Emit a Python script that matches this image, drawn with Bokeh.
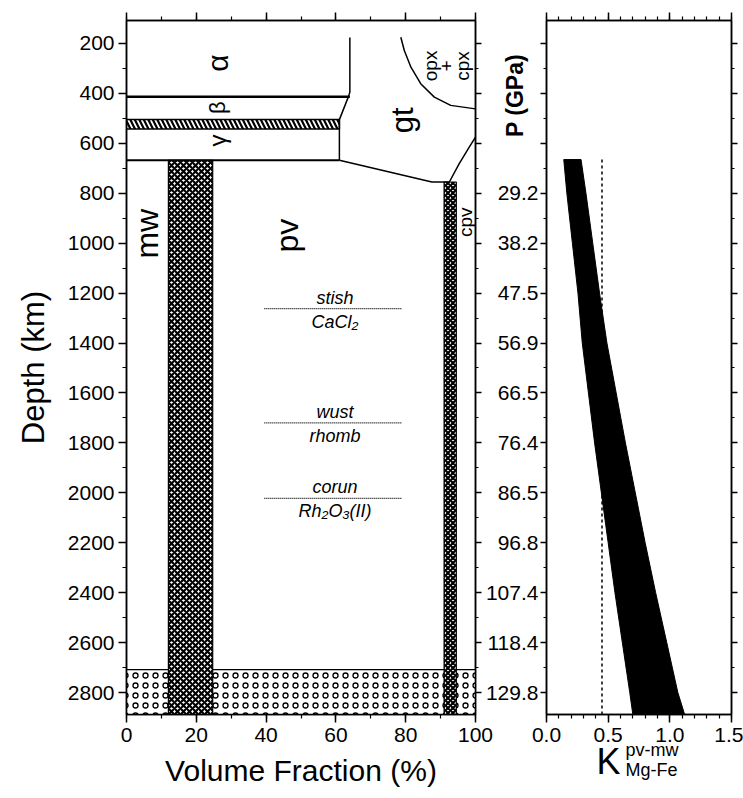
import math
from bokeh.plotting import figure
from bokeh.models import Range1d, LinearAxis, FixedTicker, Label
from bokeh.layouts import row, column
from bokeh.embed import file_html
from bokeh.resources import INLINE

FONT = "Liberation Sans"

# ---------------- data ----------------
depth_major = [200, 400, 600, 800, 1000, 1200, 1400, 1600, 1800, 2000, 2200, 2400, 2600, 2800]
depth_minor = [100 * i for i in range(1, 29)]
pressure_labels = ["", "", "", "29.2", "38.2", "47.5", "56.9", "66.5", "76.4",
                   "86.5", "96.8", "107.4", "118.4", "129.8"]
vol_major = [0, 20, 40, 60, 80, 100]
vol_minor = [0, 10, 20, 30, 40, 50, 60, 70, 80, 90, 100]
k_major = [0.0, 0.5, 1.0, 1.5]
k_minor = [0.0, 0.1, 0.2, 0.3, 0.4, 0.5, 0.6, 0.7, 0.8, 0.9, 1.0, 1.1, 1.2, 1.3, 1.4, 1.5]
k_labels = ["0.0", "0.5", "1.0", "1.5"]

depth_top, depth_bottom = 108, 2888

# phase boundaries: volume fraction (%) vs depth (km)
d410_x = [0, 64]
d410_d = [413, 413]
ol_gt_x = [64, 64, 63.6, 61, 61]
ol_gt_d = [176, 395, 413, 505, 668]
d660_x = [0, 61]
d660_d = [668, 668]
gt_pv_x = [61, 87.5, 92.5]
gt_pv_d = [668, 755, 755]
gt_cpv_x = [92.5, 95.3, 98.2, 100]
gt_cpv_d = [755, 682, 615, 575]
px_gt_x = [78.6, 79.6, 81.5, 84.3, 88.2, 92.9, 100]
px_gt_d = [175, 228, 295, 361, 415, 448, 462]

wad_ring_band = (0, 61, 505, 543)          # x0, x1, d0, d1 (hatched)
mw_bar = (12, 24.7, 668)                  # x0, x1, top depth
cpv_bar = (91, 94.5, 755)
dpp_top = 2708

trans_depth = [1262, 1720, 2022]
trans_x = [39.5, 79]
trans_upper = ["stish", "wust", "corun"]
trans_lower = ["CaCl\u2082", "rhomb", "Rh\u2082O\u2083(II)"]

# partition coefficient band
band_depth = [665, 800, 1000, 1200, 1400, 1600, 1800, 2000, 2200, 2400, 2600, 2800, 2888]
band_low = [0.14, 0.165, 0.21, 0.255, 0.29, 0.34, 0.39, 0.445, 0.50, 0.555, 0.615, 0.675, 0.70]
band_high = [0.28, 0.32, 0.375, 0.43, 0.49, 0.565, 0.64, 0.72, 0.80, 0.885, 0.975, 1.065, 1.12]
dash_k = [0.45, 0.45]
dash_d = [665, 2888]


def style_axis(ax, size="21px"):
    ax.axis_line_width = 1.5
    ax.axis_line_color = "black"
    ax.major_tick_line_width = 1.5
    ax.minor_tick_line_width = 1.2
    ax.major_tick_in = 0
    ax.minor_tick_in = 0
    ax.major_tick_out = 8
    ax.minor_tick_out = 4
    ax.major_label_text_font = FONT
    ax.major_label_text_font_size = size
    ax.major_label_text_color = "black"
    ax.axis_label_text_font = FONT
    ax.axis_label_text_font_style = "normal"
    ax.axis_label_text_color = "black"


def hide_labels(ax, ticks):
    ax.major_label_overrides = {t: "" for t in ticks}
    ax.major_label_standoff = 0


def lab(**kw):
    kw.setdefault("text_font", FONT)
    kw.setdefault("text_color", "black")
    return Label(**kw)


# ---------------- left panel ----------------
p1 = figure(width=500, height=798, output_backend="svg", toolbar_location=None,
            x_range=Range1d(0, 100), y_range=Range1d(depth_bottom, depth_top),
            min_border_left=126, min_border_right=25, min_border_top=20, min_border_bottom=84)
p1.grid.visible = False
p1.outline_line_color = "black"
p1.outline_line_width = 1.5
p1.background_fill_color = "white"

style_axis(p1.xaxis[0])
p1.xaxis[0].ticker = FixedTicker(ticks=vol_major, minor_ticks=vol_minor)
p1.xaxis[0].major_label_standoff = 5
p1.xaxis[0].axis_label = "Volume Fraction (%)"
p1.xaxis[0].axis_label_text_font_size = "30px"
p1.xaxis[0].axis_label_standoff = 9

style_axis(p1.yaxis[0])
p1.yaxis[0].ticker = FixedTicker(ticks=depth_major, minor_ticks=depth_minor)
p1.yaxis[0].major_label_standoff = 4
p1.yaxis[0].axis_label = "Depth (km)"
p1.yaxis[0].axis_label_text_font_size = "31px"
p1.yaxis[0].axis_label_standoff = 14

top1 = LinearAxis(ticker=FixedTicker(ticks=vol_major, minor_ticks=vol_minor))
style_axis(top1)
hide_labels(top1, vol_major)
p1.add_layout(top1, "above")
right1 = LinearAxis(ticker=FixedTicker(ticks=depth_major, minor_ticks=depth_minor))
style_axis(right1)
right1.major_tick_out = 6
right1.minor_tick_out = 3
hide_labels(right1, depth_major)
p1.add_layout(right1, "right")

# D'' layer (rings)
p1.quad(left=0, right=100, top=dpp_top, bottom=depth_bottom, fill_color="white",
        hatch_pattern="ring", hatch_color="black", hatch_scale=10, hatch_weight=1.3,
        line_color="black", line_width=1.2)
# hatched band in the transition zone
x0, x1, b0, b1 = wad_ring_band
p1.quad(left=x0, right=x1, top=b0, bottom=b1, fill_color="white",
        hatch_pattern="left_diagonal_line", hatch_color="black", hatch_scale=9, hatch_weight=2.2,
        line_color="black", line_width=1.5)
# mw and cpv bars
for (bx0, bx1, btop), sc in ((mw_bar, 6), (cpv_bar, 5)):
    p1.quad(left=bx0, right=bx1, top=btop, bottom=depth_bottom, fill_color="white",
            hatch_pattern="diagonal_cross", hatch_color="black", hatch_scale=sc, hatch_weight=2.2,
            line_color="black", line_width=1.2)

for xs, ds, w in ((d410_x, d410_d, 2.5), (ol_gt_x, ol_gt_d, 1.5), (d660_x, d660_d, 2),
                  (gt_pv_x, gt_pv_d, 1.5), (gt_cpv_x, gt_cpv_d, 1.5), (px_gt_x, px_gt_d, 1.5)):
    p1.line(xs, ds, line_color="black", line_width=w)

for d, up, lo in zip(trans_depth, trans_upper, trans_lower):
    p1.line(trans_x, [d, d], line_color="black", line_width=1.2, line_dash="1 1")
    xc = (trans_x[0] + trans_x[1]) / 2 + 0.5
    p1.add_layout(lab(x=xc, y=d - 44, text=up, text_font_size="18px",
                      text_font_style="italic", text_align="center", text_baseline="middle"))
    p1.add_layout(lab(x=xc, y=d + 52, text=lo, text_font_size="18px",
                      text_font_style="italic", text_align="center", text_baseline="middle"))

rot_labels = [
    ("\u03b1", 26, 279, "30px"),
    ("\u03b2", 26, 457, "22px"),
    ("\u03b3", 26, 589, "24px"),
    ("gt", 79, 508, "31px"),
    ("opx", 87.2, 290, "19px"),
    ("+", 91.6, 290, "19px"),
    ("cpx", 96.3, 290, "19px"),
    ("mw", 5.8, 962, "32px"),
    ("pv", 46, 970, "32px"),
    ("cpv", 97, 916, "19px"),
]
for t, x, y, fs in rot_labels:
    p1.add_layout(lab(x=x, y=y, text=t, text_font_size=fs, angle=math.pi / 2,
                      text_align="center", text_baseline="middle"))

# ---------------- right panel ----------------
p2 = figure(width=263, height=798, output_backend="svg", toolbar_location=None,
            x_range=Range1d(0, 1.5), y_range=Range1d(depth_bottom, depth_top),
            min_border_left=66, min_border_right=12, min_border_top=20, min_border_bottom=84,
            margin=(0, 0, 0, -20))
p2.grid.visible = False
p2.outline_line_color = "black"
p2.outline_line_width = 1.5
p2.border_fill_alpha = 0
p2.background_fill_color = "white"

style_axis(p2.xaxis[0])
p2.xaxis[0].ticker = FixedTicker(ticks=k_major, minor_ticks=k_minor)
p2.xaxis[0].major_label_overrides = {t: s for t, s in zip(k_major, k_labels)}
p2.xaxis[0].major_label_standoff = 5

style_axis(p2.yaxis[0])
p2.yaxis[0].ticker = FixedTicker(ticks=depth_major, minor_ticks=depth_minor)
p2.yaxis[0].major_label_overrides = {t: s for t, s in zip(depth_major, pressure_labels)}
p2.yaxis[0].major_tick_out = 6
p2.yaxis[0].minor_tick_out = 3
p2.yaxis[0].major_label_standoff = 2

top2 = LinearAxis(ticker=FixedTicker(ticks=k_major, minor_ticks=k_minor))
style_axis(top2)
hide_labels(top2, k_major)
p2.add_layout(top2, "above")
right2 = LinearAxis(ticker=FixedTicker(ticks=depth_major, minor_ticks=depth_minor))
style_axis(right2)
right2.major_tick_out = 6
right2.minor_tick_out = 3
hide_labels(right2, depth_major)
p2.add_layout(right2, "right")

p2.line(dash_k, dash_d, line_color="black", line_width=1.5, line_dash="3 3")
p2.patch(band_low + band_high[::-1], band_depth + band_depth[::-1],
         fill_color="black", line_color="black", line_width=1)

# ---------------- transparent overlay for axis titles outside the frames ----------------
p3 = figure(width=743, height=798, output_backend="svg", toolbar_location=None,
            x_range=Range1d(0, 743), y_range=Range1d(798, 0),
            x_axis_location=None, y_axis_location=None,
            min_border=0, margin=(-798, 0, 0, 0))
p3.grid.visible = False
p3.outline_line_color = None
p3.background_fill_alpha = 0
p3.border_fill_alpha = 0

p3.add_layout(lab(x=514, y=95, text="P (GPa)", text_font_size="23px", text_font_style="bold",
                  angle=math.pi / 2, text_align="center", text_baseline="middle"))
p3.add_layout(lab(x=596, y=761, text="K", text_font_size="36px",
                  text_align="left", text_baseline="middle"))
p3.add_layout(lab(x=625, y=749, text="pv-mw", text_font_size="18px",
                  text_align="left", text_baseline="middle"))
p3.add_layout(lab(x=625, y=769, text="Mg-Fe", text_font_size="18px",
                  text_align="left", text_baseline="middle"))

layout = column(row(p1, p2), p3)
open("out.html", "w").write(file_html(layout, INLINE))
